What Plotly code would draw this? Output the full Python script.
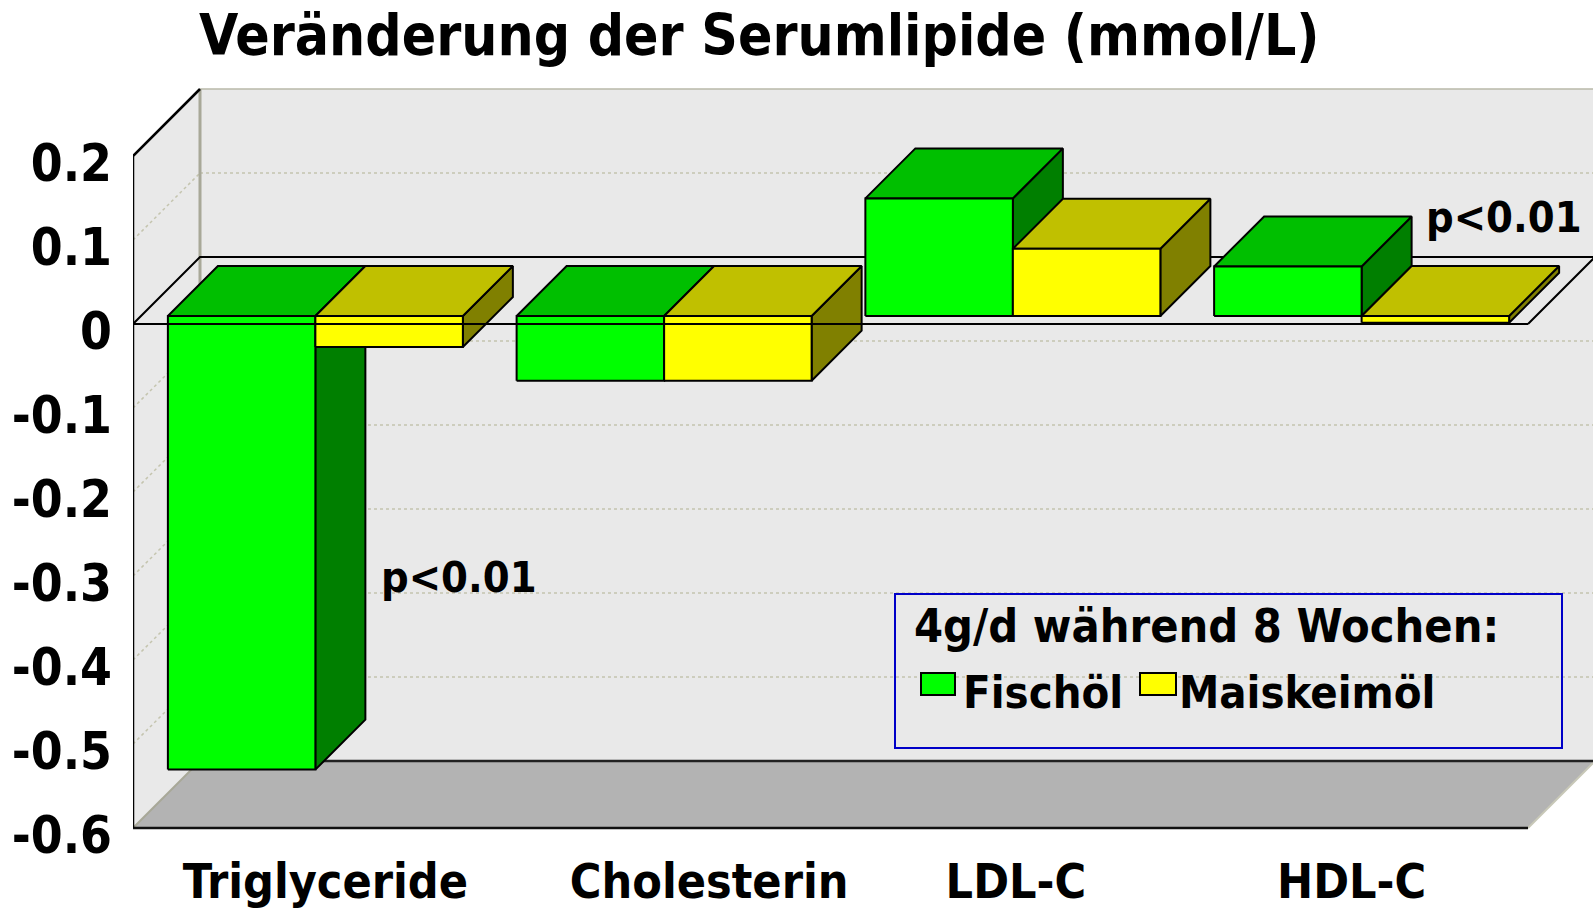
import plotly.graph_objects as go

# ---------------- data ----------------
categories = ["Triglyceride", "Cholesterin", "LDL-C", "HDL-C"]
series_names = ["Fischöl", "Maiskeimöl"]
fischoel = [-0.54, -0.077, 0.14, 0.059]
maiskeimoel = [-0.037, -0.077, 0.08, -0.008]
y_tick_values = [-0.6, -0.5, -0.4, -0.3, -0.2, -0.1, 0, 0.1, 0.2]
y_tick_labels = ["-0.6", "-0.5", "-0.4", "-0.3", "-0.2", "-0.1", "0", "0.1", "0.2"]
title_text = "Veränderung der Serumlipide (mmol/L)"
legend_title = "4g/d während 8 Wochen:"
p_label = "p<0.01"

# ---------------- layout geometry ----------------
W_FIG, H_FIG = 1593, 913
PLOT_L, PLOT_R, PLOT_T, PLOT_B = 133, 1593, 80, 835
PITCH = 348.75          # px per category on the front plane
ZERO_PX = 324           # px row of value 0 on the front plane
PX_PER_UNIT = 840       # px per 1.0 value unit
DEPTH_PX = 67           # 3-D depth offset (px, both directions)
X_MIN, X_MAX = -0.5, len(categories) - 0.5
Y_MIN, Y_MAX = -0.6, 0.2
DX = DEPTH_PX / PITCH
DY = DEPTH_PX / PX_PER_UNIT
F_FRONT, F_BACK = 8 / 67, 58 / 67
BAR_W = 147.5 / PITCH
x_range = [X_MIN, X_MIN + (PLOT_R - PLOT_L) / PITCH]
y_range = [(ZERO_PX - PLOT_B) / PX_PER_UNIT, (ZERO_PX - PLOT_T) / PX_PER_UNIT]
label_offsets_px = [18, 53, 11, -2]

WALL = "#e9e9e9"
FLOOR = "#b3b3b3"
GRID = "#c4c4ae"
EDGE_TAN = "#a8a898"
colors = {
    "Fischöl": {"front": "#00ff00", "top": "#00bf00", "side": "#007f00"},
    "Maiskeimöl": {"front": "#ffff00", "top": "#c0c000", "side": "#808000"},
}

COND = "DejaVu Sans Condensed, DejaVu Sans, sans-serif"


def proj(x, v, f):
    return x + f * DX, v + f * DY


def px_x(p):
    return (p - PLOT_L) / (PLOT_R - PLOT_L)


def px_y(p):
    return (PLOT_B - p) / (PLOT_B - PLOT_T)


fig = go.Figure()


def poly(pts, fill=None, line_color="black", lw=2, dash="solid", closed=True):
    xs, ys = [], []
    for (x, v, f) in pts:
        X, Y = proj(x, v, f)
        xs.append(X)
        ys.append(Y)
    if closed:
        xs.append(xs[0])
        ys.append(ys[0])
    kw = {}
    if fill is not None:
        kw = dict(fill="toself", fillcolor=fill)
    fig.add_trace(go.Scatter(
        x=xs, y=ys, mode="lines",
        line=dict(color=line_color, width=lw, dash=dash),
        hoverinfo="skip", showlegend=False, **kw))


# walls
poly([(X_MIN, Y_MIN, 1), (X_MAX, Y_MIN, 1), (X_MAX, Y_MAX, 1), (X_MIN, Y_MAX, 1)], fill=WALL, line_color=WALL, lw=0)
poly([(X_MIN, Y_MIN, 0), (X_MIN, Y_MIN, 1), (X_MIN, Y_MAX, 1), (X_MIN, Y_MAX, 0)], fill=WALL, line_color=WALL, lw=0)

# gridlines
for v in y_tick_values:
    if v in (Y_MIN, Y_MAX, 0):
        continue
    poly([(X_MIN, v, 1), (X_MAX, v, 1)], line_color=GRID, lw=1.5, dash="dot", closed=False)
    poly([(X_MIN, v, 0), (X_MIN, v, 1)], line_color=GRID, lw=1.5, dash="dot", closed=False)

# back wall edges
poly([(X_MIN, Y_MAX, 1), (X_MAX, Y_MAX, 1)], line_color="#b8b8a8", lw=1.5, closed=False)
poly([(X_MIN, Y_MIN, 1), (X_MIN, Y_MAX, 1)], line_color=EDGE_TAN, lw=3, closed=False)

# floor
poly([(X_MIN, Y_MIN, 0), (X_MAX, Y_MIN, 0), (X_MAX, Y_MIN, 1), (X_MIN, Y_MIN, 1)], fill=FLOOR, line_color=FLOOR, lw=0)
poly([(X_MIN, Y_MIN, 0), (X_MIN, Y_MIN, 1)], line_color=EDGE_TAN, lw=2, closed=False)
poly([(X_MAX, Y_MIN, 0), (X_MAX, Y_MIN, 1)], line_color="#c8c8b8", lw=2, closed=False)
poly([(X_MIN, Y_MIN, 1), (X_MAX, Y_MIN, 1)], line_color="#222222", lw=2.5, closed=False)
poly([(X_MIN, Y_MIN, 0), (X_MAX, Y_MIN, 0)], line_color="#111111", lw=2.5, closed=False)

# side wall front edges
poly([(X_MIN, Y_MIN, 0), (X_MIN, Y_MAX, 0), (X_MIN, Y_MAX, 1)], line_color="black", lw=2.5, closed=False)

# zero plane (back and sides)
poly([(X_MIN, 0, 0), (X_MIN, 0, 1), (X_MAX, 0, 1), (X_MAX, 0, 0)], line_color="black", lw=2, closed=False)

# bars
for i, cat in enumerate(categories):
    for s, (name, vals) in enumerate(zip(series_names, [fischoel, maiskeimoel])):
        val = vals[i]
        x0 = i - BAR_W if s == 0 else i
        x1 = x0 + BAR_W
        lo, hi = min(0, val), max(0, val)
        c = colors[name]
        poly([(x1, lo, F_FRONT), (x1, lo, F_BACK), (x1, hi, F_BACK), (x1, hi, F_FRONT)], fill=c["side"])
        poly([(x0, hi, F_FRONT), (x1, hi, F_FRONT), (x1, hi, F_BACK), (x0, hi, F_BACK)], fill=c["top"])
        poly([(x0, lo, F_FRONT), (x1, lo, F_FRONT), (x1, hi, F_FRONT), (x0, hi, F_FRONT)], fill=c["front"])

# zero plane front edge (drawn over the bars)
poly([(X_MIN, 0, 0), (X_MAX, 0, 0)], line_color="black", lw=2, closed=False)

# ---------------- annotations ----------------
ann = []
ann.append(dict(text="<b>" + title_text + "</b>", x=px_x(759), y=px_y(36), xref="paper", yref="paper",
                xanchor="center", yanchor="middle", showarrow=False,
                font=dict(family=COND, size=56.5, color="black")))
ann.append(dict(text="<b>" + p_label + "</b>", x=px_x(379), y=px_y(577), xref="paper", yref="paper",
                xanchor="left", yanchor="middle", showarrow=False,
                font=dict(family=COND, size=43, color="black")))
ann.append(dict(text="<b>" + p_label + "</b>", x=px_x(1424), y=px_y(217), xref="paper", yref="paper",
                xanchor="left", yanchor="middle", showarrow=False,
                font=dict(family=COND, size=43, color="black")))

# manual legend
shapes = []
shapes.append(dict(type="rect", xref="paper", yref="paper", x0=px_x(895), x1=px_x(1562), y0=px_y(748), y1=px_y(594),
                   line=dict(color="#0000c8", width=2), fillcolor="rgba(0,0,0,0)"))
ann.append(dict(text="<b>" + legend_title + "</b>", x=px_x(912), y=px_y(626), xref="paper", yref="paper",
                xanchor="left", yanchor="middle", showarrow=False,
                font=dict(family=COND, size=46.5, color="black")))
legend_items = [(series_names[0], 921, 955, 961), (series_names[1], 1140, 1176, 1177)]
for name, sx0, sx1, tx in legend_items:
    shapes.append(dict(type="rect", xref="paper", yref="paper", x0=px_x(sx0), x1=px_x(sx1),
                       y0=px_y(695), y1=px_y(673), line=dict(color="black", width=2),
                       fillcolor=colors[name]["front"]))
    ann.append(dict(text="<b>" + name + "</b>", x=px_x(tx), y=px_y(692), xref="paper", yref="paper",
                    xanchor="left", yanchor="middle", showarrow=False,
                    font=dict(family=COND, size=45, color="black")))

fig.update_layout(
    width=W_FIG, height=H_FIG,
    margin=dict(l=PLOT_L, r=W_FIG - PLOT_R, t=PLOT_T, b=H_FIG - PLOT_B, pad=0, autoexpand=False),
    paper_bgcolor="white", plot_bgcolor="white",
    showlegend=False,
    annotations=ann, shapes=shapes,
    xaxis=dict(range=x_range, showgrid=False, zeroline=False, showline=False, automargin=False,
               tickmode="array",
               tickvals=[i + label_offsets_px[i] / PITCH for i in range(len(categories))],
               ticktext=["<b>" + c + "</b>" for c in categories],
               tickfont=dict(family=COND, size=48, color="black"),
               ticks="", ticklabelstandoff=14, fixedrange=True),
    yaxis=dict(range=y_range, showgrid=False, zeroline=False, showline=False, automargin=False,
               tickmode="array", tickvals=y_tick_values,
               ticktext=["<b>" + t + "</b>" for t in y_tick_labels],
               tickfont=dict(family=COND, size=51, color="black"),
               ticks="", ticklabelstandoff=20, ticklabelshift=7, fixedrange=True),
)

fig.write_html("out.html", config={"displayModeBar": False},
               post_script="document.body.style.margin='0';document.body.style.padding='0';"
                           "document.body.style.overflow='hidden';")
